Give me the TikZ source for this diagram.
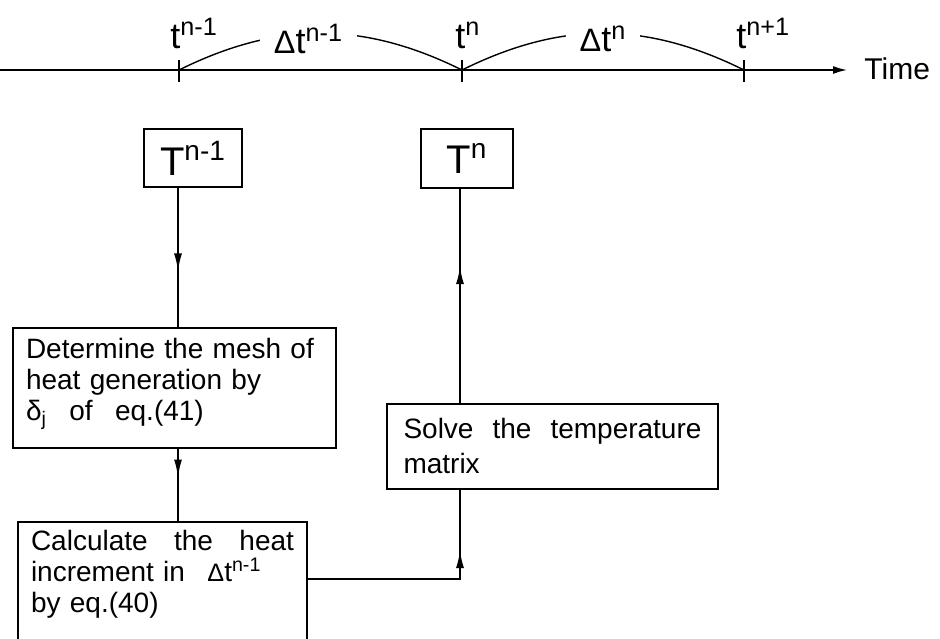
\documentclass[tikz,border=0pt]{standalone}
\usepackage{fontspec}
\setmainfont{Liberation Sans}
\usepackage{graphicx}
\usetikzlibrary{arrows.meta,decorations.markings}

\newcommand{\Dl}{\scalebox{0.9}{Δ}}
\newcommand{\boxfont}[1][15.5]{\fontsize{14}{#1}\selectfont\spaceskip=0.42em plus 0.3em minus 0.1em\relax}

\begin{document}
\begin{tikzpicture}[
  x=0.5pt, y=-0.5pt,
  box/.style={draw, line width=1pt, align=left, anchor=north west,
              inner xsep=6.5pt, font=\boxfont},
  tbox/.style={draw, line width=1pt, anchor=north west, inner sep=0pt,
               font=\fontsize{20}{20}\selectfont},
  lab/.style={font=\fontsize{18}{18}\selectfont, inner sep=0pt, anchor=base west},
  dlab/.style={fill=white, inner xsep=7pt, inner ysep=1pt, yshift=-2.75pt,
               font=\fontsize{18}{18}\selectfont},
  axis/.style={line width=1.2pt, -{Latex[length=7.5pt,width=4pt]}},
  tickline/.style={line width=0.7pt},
  arcline/.style={line width=0.7pt},
  flow/.style={line width=1pt, postaction={decorate},
               decoration={markings, mark=at position #1 with
                 {\arrow{Latex[length=9pt,width=4pt]}}}},
  flow/.default=0.5]
\useasboundingbox (0,0) rectangle (940,638);

% Time axis
\coordinate (ax0) at (0,70);
\coordinate (ax1) at (848,70);
\draw[axis] (ax0) -- (ax1);
\node[lab, font=\fontsize{15}{15}\selectfont] (time) at (864,79) {Time};
\foreach \x/\nm in {179/p0, 462/p1, 744/p2} {
  \coordinate (\nm) at (\x,70);
  \draw[tickline] (\x,60) -- (\x,82);
}
\node[lab] (tl0) at (170,48) {t\textsuperscript{n-1}};
\node[lab] (tl1) at (455,48) {t\textsuperscript{n}};
\node[lab] (tl2) at (736,48) {t\textsuperscript{n+1}};
\draw[arcline] (p0) .. controls +(99,-49) and +(-99,-49) ..
  node[dlab, xshift=-6pt] (dt0) {\Dl t\textsuperscript{n-1}} (p1);
\draw[arcline] (p1) .. controls +(99,-49) and +(-99,-49) ..
  node[dlab] (dt1) {\Dl t\textsuperscript{n}} (p2);

% Boxes
\node[tbox, minimum width=49pt, minimum height=29pt] (tn1) at (143,128) {T\textsuperscript{n-1}};
\node[tbox, minimum width=46pt, minimum height=29.5pt] (tn) at (420,128) {T\textsuperscript{n}};
\node[box, text width=148.5pt, inner ysep=5.3pt] (mesh) at (12,327)
  {Determine the mesh of\\heat generation by\\δ\textsubscript{j}\hspace{0.8em}of\hspace{0.8em}eq.(41)\rule[-8pt]{0pt}{8pt}};
\node[box, text width=131.5pt, inner ysep=4.3pt] (heat) at (17,521)
  {Calculate\hfill the\hfill heat\\increment in\hspace{0.8em}\Dl t\textsuperscript{n-1}\\by eq.(40)\rule[-20pt]{0pt}{20pt}};
\node[box, text width=149pt, inner xsep=8.25pt, inner ysep=7.3pt, font={\boxfont[17.5]}] (solve) at (386,403)
  {Solve\hfill the\hfill temperature\\matrix};

% Connectors
\coordinate (cl) at (178,0);
\coordinate (cr) at (460,0);
\coordinate (jn) at (460,579);
\draw[flow=0.6] (tn1.south -| cl) -- (mesh.north -| cl);
\draw[flow=0.4] (mesh.south -| cl) -- (heat.north -| cl);
\draw[flow=0.64] (solve.north -| cr) -- (tn.south -| cr);
\draw[flow=0.75] (heat.east |- jn) -- (jn) -- (solve.south -| cr);
\end{tikzpicture}
\end{document}
